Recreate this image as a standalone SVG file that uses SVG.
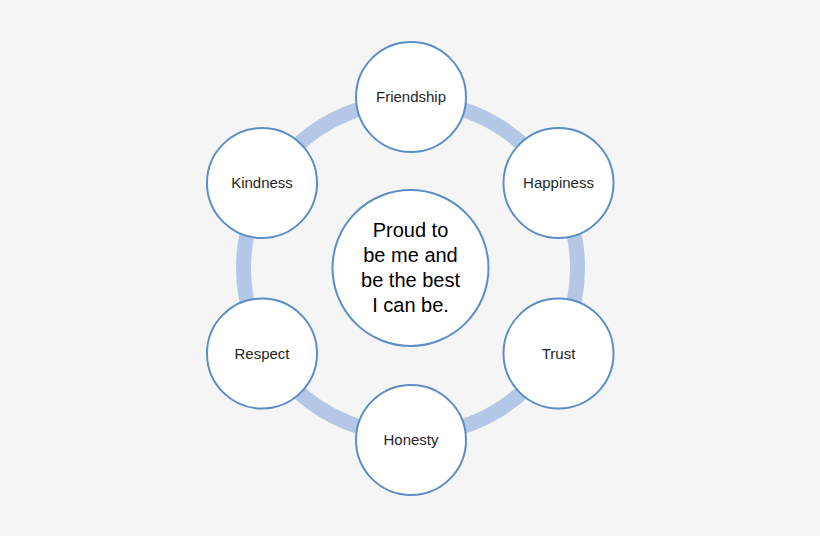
<svg xmlns="http://www.w3.org/2000/svg" width="820" height="536" viewBox="0 0 820 536">
<style>
.node{fill:#ffffff;stroke:#5b8ec4;stroke-width:2}
.lbl{font-family:"Liberation Sans",Arial,sans-serif;font-size:15px;fill:#262626;text-anchor:middle}
.ctr{font-family:"Liberation Sans",Arial,sans-serif;font-size:20px;fill:#000000;text-anchor:middle}
</style>
<rect width="820" height="536" fill="#f5f5f5"/>
<g id="connectors">
<circle cx="410.5" cy="268" r="167" fill="none" stroke="#b4c7e7" stroke-width="15"/>
</g>
<g id="center">
<circle class="node" cx="410.5" cy="268" r="78"/>
<text class="ctr" x="410.5" y="237">Proud to</text>
<text class="ctr" x="410.5" y="262">be me and</text>
<text class="ctr" x="410.5" y="287">be the best</text>
<text class="ctr" x="410.5" y="312">I can be.</text>
</g>
<g id="friendship">
<circle class="node" cx="411" cy="97" r="55"/>
<text class="lbl" x="411" y="102">Friendship</text>
</g>
<g id="happiness">
<circle class="node" cx="558.5" cy="183" r="55"/>
<text class="lbl" x="558.5" y="188">Happiness</text>
</g>
<g id="trust">
<circle class="node" cx="558.5" cy="353.5" r="55"/>
<text class="lbl" x="558.5" y="358.5">Trust</text>
</g>
<g id="honesty">
<circle class="node" cx="411" cy="440" r="55"/>
<text class="lbl" x="411" y="445">Honesty</text>
</g>
<g id="respect">
<circle class="node" cx="262" cy="353.5" r="55"/>
<text class="lbl" x="262" y="358.5">Respect</text>
</g>
<g id="kindness">
<circle class="node" cx="262" cy="183" r="55"/>
<text class="lbl" x="262" y="188">Kindness</text>
</g>
</svg>
